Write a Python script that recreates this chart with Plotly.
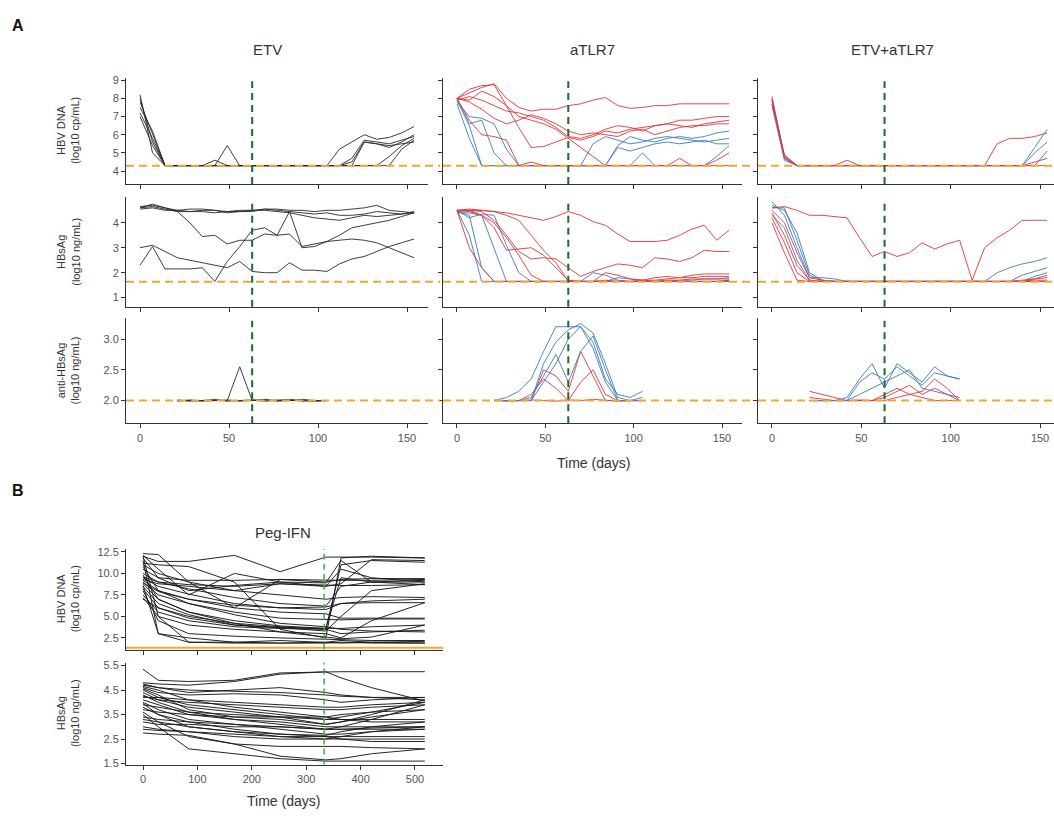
import plotly.graph_objects as go

# ---------------- sampling days ----------------
DAYS = list(range(0, 155, 7))           # weekly visits, days 0..154
ANTI_DAYS = list(range(21, 106, 7))     # anti-HBsAg visits, days 21..105
PEG_DAYS = [0, 28, 84, 168, 252, 336, 364, 420, 518]

END_OF_TREATMENT_A = 63
END_OF_TREATMENT_B = 333

LLOQ_DNA = 4.3
LLOQ_SAG = 1.64
LLOQ_ANTI = 2.0
LLOQ_PEG_DNA = 1.35

# ---------------- ETV arm ----------------
ETV_DNA = [
    [8.2, 5.0, 4.3, 4.3, 4.3, 4.3, 4.3, 4.3, 4.3, 4.3, 4.3, 4.3, 4.3, 4.3, 4.3, 4.3, 4.3, 4.7, 5.7, 5.6, 5.5, 5.7, 5.9],
    [8.0, 5.6, 4.3, 4.3, 4.3, 4.3, 4.6, 4.3, 4.3, 4.3, 4.3, 4.3, 4.3, 4.3, 4.3, 4.3, 5.2, 5.6, 6.0, 5.75, 5.85, 6.1, 6.45],
    [7.5, 6.2, 4.3, 4.3, 4.3, 4.3, 4.3, 4.3, 4.3, 4.3, 4.3, 4.3, 4.3, 4.3, 4.3, 4.3, 4.3, 4.3, 4.3, 4.3, 4.8, 5.4, 5.8],
    [7.2, 5.8, 4.3, 4.3, 4.3, 4.3, 4.3, 5.4, 4.3, 4.3, 4.3, 4.3, 4.3, 4.3, 4.3, 4.3, 4.3, 4.3, 5.6, 5.5, 5.3, 5.6, 6.0],
    [7.0, 5.4, 4.3, 4.3, 4.3, 4.3, 4.3, 4.3, 4.3, 4.3, 4.3, 4.3, 4.3, 4.3, 4.3, 4.3, 4.3, 4.3, 4.3, 4.3, 4.3, 5.2, 5.7],
    [7.8, 6.0, 4.3, 4.3, 4.3, 4.3, 4.3, 4.3, 4.3, 4.3, 4.3, 4.3, 4.3, 4.3, 4.3, 4.3, 4.3, 4.5, 5.6, 5.5, 5.4, 5.5, 5.6],
]
ETV_SAG = [
    [4.6, 4.65, 4.55, 4.45, 4.45, 4.5, 4.5, 4.45, 4.45, 4.5, 4.55, 4.5, 4.45, 4.4, 4.35, 4.4, 4.3, 4.3, 4.35, 4.45, 4.4, 4.35, 4.4],
    [4.55, 4.6, 4.5, 4.5, 4.55, 4.55, 4.5, 4.4, 4.45, 4.45, 4.55, 4.55, 4.5, 4.5, 4.45, 4.5, 4.5, 4.55, 4.6, 4.7, 4.5, 4.45, 4.4],
    [4.65, 4.7, 4.6, 4.5, 4.45, 4.45, 4.4, 4.45, 4.5, 4.5, 4.5, 4.45, 4.4, 4.3, 4.2, 4.15, 4.1, 4.2, 4.3, 4.25, 4.3, 4.35, 4.45],
    [4.6, 4.75, 4.6, 4.45, 4.0, 3.45, 3.5, 3.15, 3.3, 3.3, 3.55, 3.5, 4.45, 3.0, 3.05, 3.25, 3.5, 3.8, 3.9, 4.0, 4.1, 4.25, 4.4],
    [2.3, 3.05, 2.15, 2.15, 2.15, 2.2, 1.65, 2.45, 3.05, 3.7, 3.8, 3.5, 3.55, 3.05, 3.15, 3.25, 3.3, 3.35, 3.3, 3.2, 3.0, 2.8, 2.6],
    [3.0, 3.1, 2.85, 2.6, 2.5, 2.4, 2.3, 2.2, 2.45, 2.05, 2.0, 2.0, 2.4, 2.1, 2.1, 2.05, 2.35, 2.55, 2.65, 2.85, 3.05, 3.2, 3.35],
]
ETV_ANTI = [
    [2.0, 2.0, 2.01, 2.0, 2.0, 2.55, 2.0, 2.01, 2.0, 2.0, 2.02, 2.0, 2.0],
    [2.01, 1.99, 2.0, 2.02, 1.99, 2.0, 2.01, 1.99, 2.01, 2.02, 1.99, 2.0, 2.0],
    [1.99, 2.01, 1.99, 2.0, 2.01, 1.99, 2.0, 2.02, 1.99, 2.0, 2.01, 1.99, 2.0],
]

# ---------------- aTLR7 arm ----------------
TLR_DNA_RED = [
    [8.0, 8.3, 8.6, 8.8, 8.0, 7.5, 7.3, 7.4, 7.4, 7.6, 7.7, 7.9, 8.05, 7.6, 7.45, 7.5, 7.6, 7.6, 7.7, 7.7, 7.7, 7.7, 7.7],
    [8.0, 8.5, 8.7, 8.75, 7.6, 6.4, 5.3, 5.35, 5.6, 5.85, 5.7, 5.9, 6.2, 6.1, 6.3, 6.4, 6.5, 6.6, 6.8, 6.8, 6.9, 7.0, 7.0],
    [7.9, 8.1, 7.9, 7.6, 7.3, 7.2, 7.0, 6.8, 6.4, 5.9, 5.8, 6.0, 6.3, 6.5, 6.4, 6.2, 6.5, 6.6, 6.5, 6.4, 6.6, 6.7, 6.8],
    [8.0, 7.8, 7.4, 6.9, 6.6, 6.8, 7.1, 6.9, 6.6, 6.2, 6.0, 6.1, 6.0, 5.9, 6.2, 6.3, 6.0, 6.2, 6.4, 6.5, 6.5, 6.6, 6.6],
    [8.0, 7.9, 8.4, 8.1, 7.6, 7.0, 6.8, 6.6, 6.3, 5.8, 5.3, 4.8, 4.3, 4.3, 4.3, 4.3, 4.3, 4.3, 4.7, 4.3, 4.3, 4.6, 5.0],
    [8.0, 6.8, 6.0, 5.9, 5.7, 4.3, 4.5, 4.3, 4.3, 4.3, 4.3, 4.3, 4.3, 4.3, 4.3, 4.3, 4.3, 4.3, 4.3, 4.3, 4.3, 4.3, 4.3],
]
TLR_DNA_BLUE = [
    [7.9, 6.5, 4.3, 4.3, 4.3, 4.3, 4.3, 4.3, 4.3, 4.3, 4.3, 4.3, 4.3, 5.4, 5.9, 5.7, 5.6, 5.8, 5.9, 5.8, 5.9, 6.1, 6.2],
    [7.8, 7.0, 6.9, 6.6, 5.2, 4.3, 4.3, 4.3, 4.3, 4.3, 4.3, 5.5, 5.9, 5.7, 5.5, 5.6, 5.8, 5.9, 5.8, 5.7, 5.6, 5.7, 5.8],
    [8.0, 6.6, 6.8, 5.0, 4.3, 4.3, 4.3, 4.3, 4.3, 4.3, 4.3, 4.3, 4.3, 5.3, 5.1, 5.3, 5.5, 5.6, 5.5, 5.6, 5.7, 5.5, 5.5],
    [7.7, 5.8, 4.3, 4.3, 4.3, 4.3, 4.3, 4.3, 4.3, 4.3, 4.3, 4.3, 4.3, 4.3, 4.3, 5.0, 4.3, 4.3, 4.3, 4.3, 4.3, 4.8, 5.4],
]
TLR_SAG_RED = [
    [4.5, 4.55, 4.5, 4.45, 4.4, 4.3, 4.2, 4.1, 4.25, 4.45, 4.3, 4.05, 3.9, 3.55, 3.25, 3.25, 3.25, 3.3, 3.5, 3.75, 3.9, 3.3, 3.7],
    [4.5, 4.5, 4.45, 4.1, 3.5, 2.85, 2.55, 2.6, 2.55, 2.2, 1.85, 2.05, 2.2, 2.35, 2.3, 2.2, 2.6, 2.55, 2.45, 2.6, 2.9, 2.85, 2.85],
    [4.5, 4.5, 4.5, 4.45, 4.3, 4.1, 3.5, 2.9, 2.4, 1.65, 1.65, 1.65, 1.65, 1.65, 1.65, 1.7, 1.8, 1.85, 1.8, 1.9, 1.95, 1.95, 1.95],
    [4.5, 4.45, 4.3, 4.0, 3.4, 2.7, 1.9, 1.65, 1.65, 1.65, 1.65, 1.65, 1.7, 1.65, 1.65, 1.65, 1.65, 1.7, 1.7, 1.75, 1.75, 1.75, 1.75],
    [4.45, 4.5, 4.3, 3.8, 2.9, 2.95, 3.0, 2.7, 2.2, 1.7, 1.65, 1.65, 2.0, 1.9, 1.75, 1.7, 1.7, 1.75, 1.8, 1.8, 1.85, 1.85, 1.85],
    [4.5, 3.0, 2.2, 1.65, 1.65, 1.65, 1.65, 1.65, 1.65, 1.65, 1.65, 1.65, 1.65, 1.65, 1.65, 1.65, 1.65, 1.65, 1.65, 1.65, 1.65, 1.65, 1.7],
]
TLR_SAG_BLUE = [
    [4.5, 3.5, 1.65, 1.65, 1.65, 1.65, 1.65, 1.65, 1.65, 1.65, 1.65, 1.65, 1.65, 1.65, 1.65, 1.65, 1.65, 1.65, 1.65, 1.65, 1.65, 1.65, 1.7],
    [4.45, 4.3, 2.2, 1.65, 1.65, 1.65, 1.65, 1.65, 1.65, 1.65, 1.65, 1.65, 1.65, 1.65, 1.65, 1.65, 1.65, 1.65, 1.65, 1.65, 1.65, 1.65, 1.65],
    [4.4, 4.4, 4.3, 3.0, 1.65, 1.65, 1.65, 1.65, 1.65, 1.65, 1.65, 2.0, 1.9, 1.7, 1.65, 1.65, 1.65, 1.65, 1.65, 1.65, 1.65, 1.65, 1.65],
    [4.5, 4.2, 4.35, 4.3, 3.1, 2.0, 1.65, 1.65, 1.65, 1.65, 1.65, 1.65, 1.65, 1.8, 1.75, 1.7, 1.65, 1.65, 1.7, 1.7, 1.75, 1.75, 1.8],
]
TLR_ANTI_BLUE = [
    [2.0, 2.05, 2.15, 2.35, 2.8, 3.2, 3.2, 3.2, 2.95, 2.35, 2.1, 2.05, 2.15],
    [2.0, 2.0, 2.0, 2.0, 2.6, 2.95, 3.15, 3.25, 3.1, 2.6, 2.05, 2.0, 2.0],
    [2.0, 2.0, 2.0, 2.05, 2.4, 2.75, 2.3, 2.8, 3.05, 2.5, 2.0, 2.0, 2.0],
    [2.0, 2.0, 2.0, 2.0, 2.3, 2.6, 3.0, 3.2, 2.85, 2.3, 2.0, 2.0, 2.05],
]
TLR_ANTI_RED = [
    [2.0, 2.0, 2.0, 2.0, 2.5, 2.4, 2.15, 2.8, 2.4, 2.0, 2.0, 2.0, 2.0],
    [2.0, 2.0, 2.0, 2.1, 2.35, 2.2, 2.0, 2.3, 2.5, 2.1, 2.0, 2.0, 2.0],
    [2.01, 1.99, 2.0, 2.01, 2.0, 1.99, 2.01, 2.0, 2.02, 2.0, 1.99, 2.0, 2.0],
]

# ---------------- ETV+aTLR7 arm ----------------
COMBO_DNA_RED = [
    [8.1, 4.8, 4.3, 4.3, 4.3, 4.3, 4.3, 4.3, 4.3, 4.3, 4.3, 4.3, 4.3, 4.3, 4.3, 4.3, 4.3, 4.3, 4.3, 4.3, 4.3, 4.3, 4.3],
    [7.9, 4.7, 4.3, 4.3, 4.3, 4.3, 4.6, 4.3, 4.3, 4.3, 4.3, 4.3, 4.3, 4.3, 4.3, 4.3, 4.3, 4.3, 5.5, 5.8, 5.8, 5.9, 6.1],
    [7.7, 4.9, 4.3, 4.3, 4.3, 4.3, 4.3, 4.3, 4.3, 4.3, 4.3, 4.3, 4.3, 4.3, 4.3, 4.3, 4.3, 4.3, 4.3, 4.3, 4.3, 4.5, 4.7],
]
COMBO_DNA_BLUE = [
    [8.0, 4.8, 4.3, 4.3, 4.3, 4.3, 4.3, 4.3, 4.3, 4.3, 4.3, 4.3, 4.3, 4.3, 4.3, 4.3, 4.3, 4.3, 4.3, 4.3, 4.3, 5.3, 6.3],
    [7.6, 4.6, 4.3, 4.3, 4.3, 4.3, 4.3, 4.3, 4.3, 4.3, 4.3, 4.3, 4.3, 4.3, 4.3, 4.3, 4.3, 4.3, 4.3, 4.3, 4.3, 5.0, 5.6],
    [7.9, 4.7, 4.3, 4.3, 4.3, 4.3, 4.3, 4.3, 4.3, 4.3, 4.3, 4.3, 4.3, 4.3, 4.3, 4.3, 4.3, 4.3, 4.3, 4.3, 4.3, 4.3, 5.1],
]
COMBO_SAG_RED = [
    [4.6, 4.65, 4.5, 4.3, 4.3, 4.25, 4.2, 3.4, 2.65, 2.85, 2.65, 2.8, 3.2, 2.95, 3.15, 3.3, 1.7, 3.0, 3.4, 3.7, 4.1, 4.1, 4.1],
    [4.4, 3.5, 2.3, 1.7, 1.65, 1.65, 1.65, 1.65, 1.65, 1.65, 1.65, 1.65, 1.65, 1.65, 1.65, 1.65, 1.65, 1.65, 1.65, 1.65, 1.65, 1.75, 1.8],
    [4.2, 3.2, 2.0, 1.65, 1.65, 1.65, 1.65, 1.65, 1.65, 1.65, 1.65, 1.65, 1.65, 1.65, 1.65, 1.65, 1.65, 1.65, 1.65, 1.65, 1.65, 1.65, 1.65],
    [4.0, 2.8, 1.7, 1.65, 1.65, 1.65, 1.65, 1.65, 1.65, 1.65, 1.65, 1.65, 1.65, 1.65, 1.65, 1.65, 1.65, 1.65, 1.65, 1.65, 1.65, 1.7, 1.7],
    [4.5, 4.0, 2.8, 1.8, 1.7, 1.65, 1.65, 1.65, 1.65, 1.65, 1.65, 1.65, 1.65, 1.65, 1.65, 1.65, 1.65, 1.65, 1.65, 1.65, 1.7, 1.75, 1.9],
]
COMBO_SAG_BLUE = [
    [4.85, 4.3, 3.0, 1.8, 1.8, 1.75, 1.65, 1.65, 1.65, 1.65, 1.65, 1.65, 1.65, 1.65, 1.65, 1.65, 1.65, 1.65, 2.0, 2.2, 2.35, 2.45, 2.6],
    [4.7, 4.5, 3.6, 2.0, 1.7, 1.65, 1.65, 1.65, 1.65, 1.65, 1.65, 1.65, 1.65, 1.65, 1.65, 1.65, 1.65, 1.65, 1.65, 1.65, 1.9, 2.05, 2.2],
    [4.3, 3.8, 2.5, 1.7, 1.65, 1.65, 1.65, 1.65, 1.65, 1.65, 1.65, 1.65, 1.65, 1.65, 1.65, 1.65, 1.65, 1.65, 1.65, 1.65, 1.65, 1.85, 2.0],
    [4.6, 4.6, 3.3, 1.9, 1.7, 1.65, 1.65, 1.65, 1.65, 1.65, 1.65, 1.65, 1.65, 1.65, 1.65, 1.65, 1.65, 1.65, 1.65, 1.65, 1.65, 1.65, 1.65],
]
COMBO_ANTI_BLUE = [
    [2.0, 2.0, 2.0, 2.05, 2.35, 2.6, 2.2, 2.6, 2.45, 2.3, 2.55, 2.4, 2.35],
    [2.0, 2.0, 2.0, 2.0, 2.3, 2.45, 2.35, 2.55, 2.4, 2.25, 2.45, 2.4, 2.35],
    [2.0, 2.0, 2.0, 2.0, 2.1, 2.2, 2.3, 2.4, 2.5, 2.2, 2.15, 2.1, 2.05],
]
COMBO_ANTI_RED = [
    [2.15, 2.1, 2.05, 2.0, 2.0, 2.0, 2.05, 2.15, 2.25, 2.1, 2.2, 2.1, 2.0],
    [2.0, 2.0, 2.0, 2.0, 2.0, 2.0, 2.1, 2.2, 2.1, 2.05, 2.0, 2.0, 2.0],
    [2.05, 2.02, 2.0, 2.0, 2.01, 2.0, 2.0, 2.05, 2.1, 2.15, 2.35, 2.2, 2.0],
]

# ---------------- Peg-IFN cohort ----------------
PEG_DNA = [
    [12.0, 11.4, 11.4, 12.1, 10.2, 11.9, 11.9, 11.9, 11.8],
    [12.3, 12.2, 9.0, 6.0, 9.3, 9.2, 9.2, 9.2, 9.3],
    [11.8, 9.5, 8.0, 8.6, 9.0, 8.9, 11.5, 9.0, 9.0],
    [12.0, 5.0, 2.0, 1.9, 1.9, 1.9, 2.0, 1.9, 1.9],
    [11.5, 3.0, 2.5, 2.0, 1.9, 2.0, 2.2, 2.0, 2.1],
    [10.0, 9.0, 8.2, 7.2, 6.5, 6.2, 8.5, 9.0, 9.2],
    [9.5, 8.5, 7.6, 6.5, 6.0, 5.8, 6.5, 6.8, 7.0],
    [9.2, 8.0, 7.0, 6.0, 5.5, 5.3, 4.8, 4.8, 4.8],
    [9.0, 7.5, 6.5, 5.2, 4.2, 3.8, 3.5, 3.3, 3.2],
    [8.8, 7.0, 5.5, 4.2, 3.8, 3.5, 11.0, 11.5, 11.3],
    [8.5, 6.5, 5.2, 4.0, 3.7, 3.6, 3.6, 3.8, 4.0],
    [8.2, 6.0, 4.8, 4.0, 3.7, 3.3, 5.0, 8.0, 8.8],
    [9.8, 7.0, 5.5, 4.5, 3.9, 3.6, 9.5, 9.0, 8.7],
    [7.5, 5.5, 4.5, 3.8, 3.6, 3.5, 3.0, 3.2, 3.4],
    [7.2, 5.0, 4.0, 3.5, 3.2, 3.0, 2.5, 4.5, 6.6],
    [10.5, 9.5, 9.2, 9.2, 9.3, 9.0, 9.3, 9.4, 9.4],
    [11.0, 10.0, 9.0, 8.0, 8.8, 8.6, 8.6, 8.6, 8.7],
    [8.0, 4.5, 3.0, 2.7, 2.5, 2.4, 2.3, 2.2, 2.2],
    [9.3, 8.8, 8.5, 8.0, 7.5, 7.0, 7.2, 7.3, 7.2],
    [12.1, 10.5, 7.5, 10.0, 9.0, 8.5, 8.8, 11.6, 11.5],
    [8.6, 3.0, 2.0, 2.0, 2.2, 2.0, 1.9, 2.0, 1.9],
    [11.2, 11.0, 10.8, 9.0, 3.5, 2.5, 11.8, 12.0, 11.8],
    [7.0, 6.0, 5.0, 4.2, 3.2, 2.6, 2.4, 2.6, 4.0],
    [9.6, 9.0, 8.7, 8.5, 8.8, 8.5, 10.5, 9.5, 9.0],
    [10.8, 8.0, 6.5, 5.5, 4.8, 4.6, 4.6, 4.7, 4.7],
    [8.9, 7.9, 7.0, 6.3, 6.0, 6.1, 6.5, 6.6, 6.6],
]
PEG_SAG = [
    [5.35, 4.9, 4.85, 4.9, 5.2, 5.25, 5.25, 5.25, 5.25],
    [4.8, 4.75, 4.7, 4.85, 5.15, 5.25, 5.0, 4.6, 4.05],
    [4.7, 4.6, 4.5, 4.45, 4.4, 4.3, 4.25, 4.2, 4.1],
    [4.6, 4.4, 4.3, 4.35, 4.3, 4.1, 4.0, 4.1, 4.2],
    [4.5, 4.2, 3.9, 3.7, 3.5, 3.3, 3.4, 3.6, 4.0],
    [4.4, 4.1, 3.8, 3.6, 3.4, 3.1, 3.2, 3.5, 4.1],
    [4.3, 4.0, 3.6, 3.3, 3.1, 2.9, 3.0, 3.3, 3.9],
    [4.2, 4.2, 4.1, 4.0, 3.9, 3.8, 3.8, 3.9, 4.0],
    [4.1, 3.9, 3.5, 3.3, 3.2, 3.0, 3.0, 3.0, 3.0],
    [4.0, 3.7, 3.3, 3.1, 2.9, 2.7, 2.7, 2.8, 2.9],
    [3.9, 3.8, 3.6, 3.5, 3.4, 3.3, 3.3, 3.3, 3.3],
    [3.8, 3.5, 3.2, 2.9, 2.7, 2.6, 2.5, 2.4, 2.4],
    [3.7, 3.6, 3.5, 3.4, 3.4, 3.4, 3.5, 3.6, 3.7],
    [3.6, 3.2, 2.6, 2.3, 2.2, 2.2, 2.2, 2.15, 2.1],
    [3.5, 3.0, 2.1, 1.9, 1.7, 1.6, 1.6, 1.6, 1.6],
    [3.4, 3.3, 3.2, 3.1, 3.0, 2.9, 2.9, 2.95, 3.0],
    [3.3, 3.2, 3.0, 2.8, 2.6, 2.5, 2.6, 2.8, 3.0],
    [3.2, 3.1, 3.1, 3.0, 3.0, 2.9, 2.9, 2.9, 2.9],
    [3.0, 2.9, 2.8, 2.6, 2.5, 2.5, 2.5, 2.5, 2.5],
    [2.9, 2.85, 2.8, 2.7, 2.6, 2.6, 2.6, 2.6, 2.6],
    [2.75, 2.7, 2.65, 2.3, 1.8, 1.65, 1.7, 1.9, 2.1],
    [4.75, 4.6, 4.4, 4.5, 4.6, 4.4, 4.3, 4.2, 4.2],
    [4.65, 4.5, 4.1, 3.8, 3.6, 3.4, 3.3, 3.2, 3.2],
    [4.55, 4.3, 3.7, 3.4, 3.3, 3.1, 3.2, 3.4, 3.7],
    [4.25, 4.1, 4.0, 3.9, 3.8, 3.7, 3.7, 3.8, 3.9],
    [3.95, 3.5, 3.0, 2.8, 2.7, 2.65, 2.8, 3.0, 3.2],
]

# ---------------- styling ----------------
FONT = "Liberation Sans, Arial, sans-serif"
BLACK = "#2b2b2b"
RED = "#e2373c"
BLUE = "#3f7cc4"
ORANGE = "#f2a634"
GREEN_A = "#1d6b2a"
GREEN_B = "#3fae4a"
W, H = 1054, 816


def px_x(a, b):
    return [a / W, b / W]


def px_y(top, bottom):
    return [1 - bottom / H, 1 - top / H]


COL_DOM = [px_x(126, 428), px_x(443, 742), px_x(758, 1054)]
COL_RNG = [[-7.9, 161.8], [-7.9, 161.3], [-7.8, 157.8]]
ROW_DOM = [px_y(75, 182), px_y(195, 306), px_y(317, 424)]
ROW_RNG = [[3.29, 9.11], [0.64, 5.04], [1.63, 3.35]]
ROW_TICKS = [[4, 5, 6, 7, 8, 9], [1, 2, 3, 4], [2.0, 2.5, 3.0]]
ROW_FMT = ["d", "d", ".1f"]
ROW_LLOQ = [LLOQ_DNA, LLOQ_SAG, LLOQ_ANTI]
ROW_TITLES = ["HBV DNA<br>(log10 cp/mL)", "HBsAg<br>(log10 ng/mL)", "anti-HBsAg<br>(log10 ng/mL)"]
COL_TITLES = ["ETV", "aTLR7", "ETV+aTLR7"]

axis_style = dict(
    showline=True, linecolor="#333333", linewidth=1, mirror=False,
    ticks="outside", ticklen=4, tickwidth=1, tickcolor="#333333",
    showgrid=False, zeroline=False,
    tickfont=dict(family=FONT, size=11, color="#555555"),
)

fig = go.Figure()


def refs(k):
    return ("x" if k == 1 else f"x{k}"), ("y" if k == 1 else f"y{k}")


def add_group(k, days, series, color, width=1.0, opacity=0.9):
    xr, yr = refs(k)
    for vals in series:
        fig.add_trace(go.Scatter(
            x=days, y=vals, mode="lines",
            line=dict(color=color, width=width), opacity=opacity,
            xaxis=xr, yaxis=yr, showlegend=False, hoverinfo="skip",
        ))


# panel A traces: k = row*3 + col + 1
add_group(1, DAYS, ETV_DNA, BLACK)
add_group(4, DAYS, ETV_SAG, BLACK)
add_group(7, ANTI_DAYS, ETV_ANTI, BLACK)

add_group(2, DAYS, TLR_DNA_BLUE, BLUE)
add_group(2, DAYS, TLR_DNA_RED, RED)
add_group(5, DAYS, TLR_SAG_BLUE, BLUE)
add_group(5, DAYS, TLR_SAG_RED, RED)
add_group(8, ANTI_DAYS, TLR_ANTI_RED, RED)
add_group(8, ANTI_DAYS, TLR_ANTI_BLUE, BLUE)

add_group(3, DAYS, COMBO_DNA_BLUE, BLUE)
add_group(3, DAYS, COMBO_DNA_RED, RED)
add_group(6, DAYS, COMBO_SAG_BLUE, BLUE)
add_group(6, DAYS, COMBO_SAG_RED, RED)
add_group(9, ANTI_DAYS, COMBO_ANTI_RED, RED)
add_group(9, ANTI_DAYS, COMBO_ANTI_BLUE, BLUE)

# panel B traces
add_group(10, PEG_DAYS, PEG_DNA, "#1a1a1a", width=1.0, opacity=0.95)
add_group(11, PEG_DAYS, PEG_SAG, "#1a1a1a", width=1.0, opacity=0.95)

layout = dict(
    width=W, height=H, autosize=False,
    margin=dict(l=0, r=0, t=0, b=0),
    paper_bgcolor="white", plot_bgcolor="white",
    showlegend=False,
    font=dict(family=FONT, color="#333333"),
)
shapes = []
annotations = []

for r in range(3):
    for c in range(3):
        k = r * 3 + c + 1
        xr, yr = refs(k)
        xname = "xaxis" if k == 1 else f"xaxis{k}"
        yname = "yaxis" if k == 1 else f"yaxis{k}"
        layout[xname] = dict(domain=COL_DOM[c], range=COL_RNG[c], anchor=yr,
                             tickvals=[0, 50, 100, 150], showticklabels=(r == 2),
                             **axis_style)
        layout[yname] = dict(domain=ROW_DOM[r], range=ROW_RNG[r], anchor=xr,
                             tickvals=ROW_TICKS[r], tickformat=ROW_FMT[r],
                             showticklabels=(c == 0), **axis_style)
        shapes.append(dict(type="line", xref=f"{xr} domain", yref=yr,
                           x0=0, x1=1.04, y0=ROW_LLOQ[r], y1=ROW_LLOQ[r],
                           line=dict(color=ORANGE, width=2, dash="8px,5px"),
                           layer="above"))
        shapes.append(dict(type="line", xref=xr, yref=f"{yr} domain",
                           x0=END_OF_TREATMENT_A, x1=END_OF_TREATMENT_A, y0=0, y1=0.97,
                           line=dict(color=GREEN_A, width=2, dash="7px,5px"),
                           layer="above"))

# panel B axes
B_XDOM = px_x(126, 443)
B_XRNG = [-31.3, 551.5]
B_ROWS = [
    (10, px_y(551, 653), [1.12, 12.85], [2.5, 5.0, 7.5, 10.0, 12.5], LLOQ_PEG_DNA, False),
    (11, px_y(666, 769), [1.46, 5.62], [1.5, 2.5, 3.5, 4.5, 5.5], None, True),
]
for k, ydom, yrng, yt, lloq, show_x in B_ROWS:
    xr, yr = refs(k)
    layout[f"xaxis{k}"] = dict(domain=B_XDOM, range=B_XRNG, anchor=yr,
                               tickvals=[0, 100, 200, 300, 400, 500],
                               showticklabels=show_x, **axis_style)
    layout[f"yaxis{k}"] = dict(domain=ydom, range=yrng, anchor=xr,
                               tickvals=yt, tickformat=".1f", **axis_style)
    if lloq is not None:
        shapes.append(dict(type="line", xref=f"{xr} domain", yref=yr,
                           x0=0, x1=1.0, y0=lloq, y1=lloq,
                           line=dict(color=ORANGE, width=2), layer="above"))
    shapes.append(dict(type="line", xref=xr, yref=f"{yr} domain",
                       x0=END_OF_TREATMENT_B, x1=END_OF_TREATMENT_B, y0=0, y1=1.0,
                       line=dict(color=GREEN_B, width=1.5, dash="6px,4px"),
                       layer="above"))

# titles and labels
def label(text, x, y, size, angle=0, bold=False, color="#333333"):
    annotations.append(dict(
        text=f"<b>{text}</b>" if bold else text,
        x=x / W, y=1 - y / H, xref="paper", yref="paper",
        showarrow=False, textangle=angle, xanchor="center", yanchor="middle",
        font=dict(family=FONT, size=size, color=color),
    ))


label("A", 18, 22, 16, bold=True, color="#111111")
label("B", 18, 492, 16, bold=True, color="#111111")
for c, t in enumerate(COL_TITLES):
    label(t, [267, 592, 892][c], 46, 15)
label("Peg-IFN", 283, 534, 15)
label("Time (days)", 593, 464, 14)
label("Time (days)", 283, 806, 14)
for r, t in enumerate(ROW_TITLES):
    top, bottom = [(75, 182), (195, 306), (317, 424)][r]
    label(t, 68, (top + bottom) / 2, 11, angle=-90)
label(ROW_TITLES[0], 68, 602, 11, angle=-90)
label(ROW_TITLES[1], 68, 717, 11, angle=-90)

layout["shapes"] = shapes
layout["annotations"] = annotations
fig.update_layout(**layout)
fig.write_html("out.html")
